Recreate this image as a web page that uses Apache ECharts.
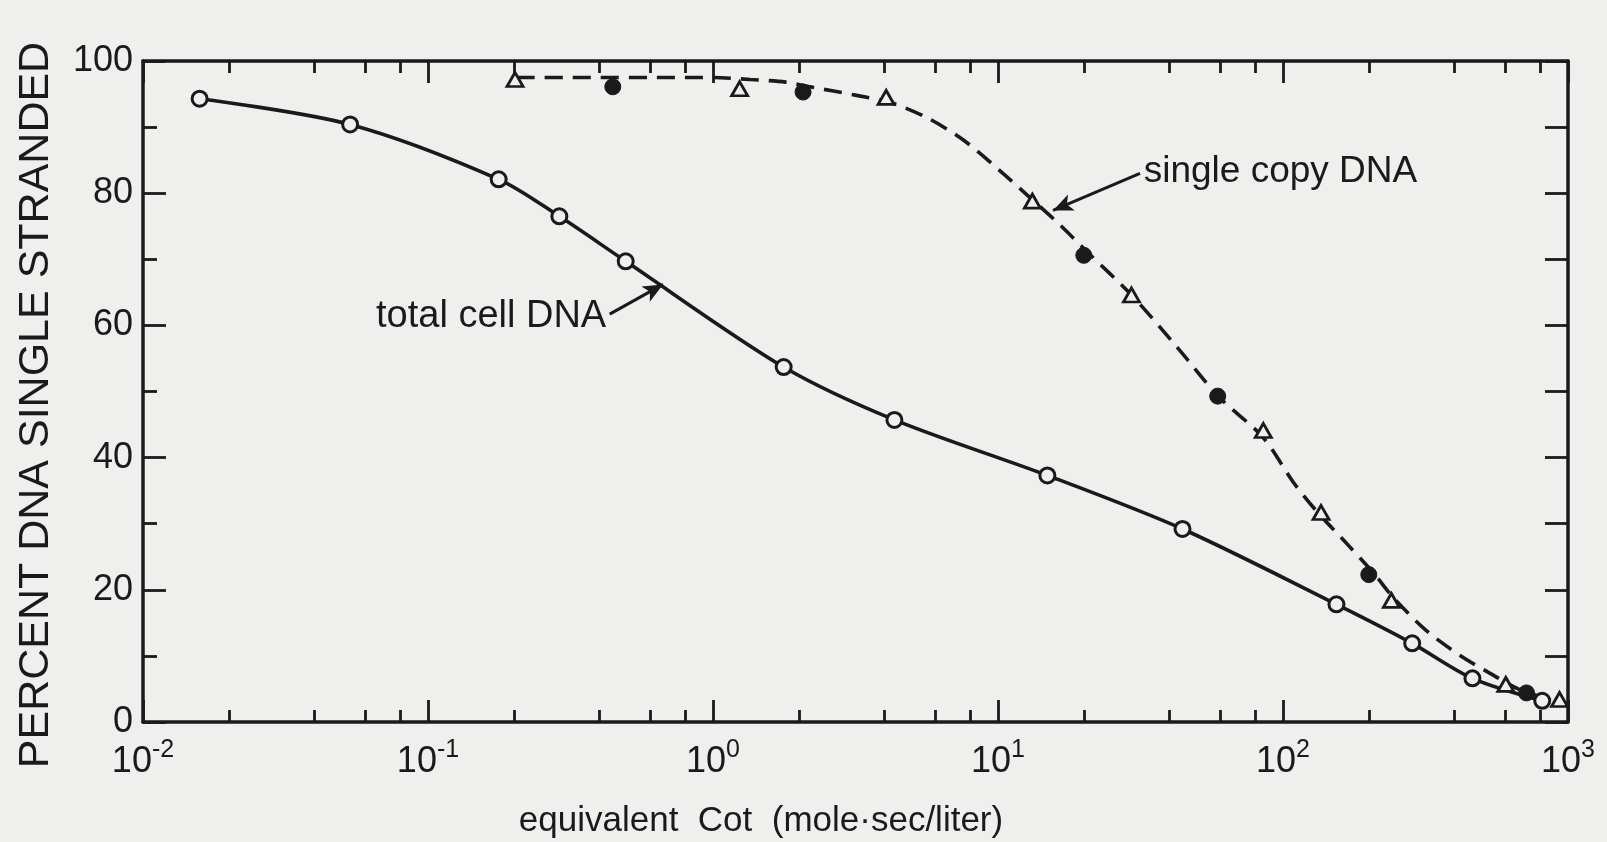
<!DOCTYPE html>
<html>
<head>
<meta charset="utf-8">
<script src="https://cdn.jsdelivr.net/npm/echarts@6/dist/echarts.min.js"></script>
<style>
html,body{margin:0;padding:0;background:#efefed;}
#c{width:1607px;height:842px;}
</style>
</head>
<body>
<div id="c"></div>
<script>
// ---- data ----
// total cell DNA (open circles, solid curve)
var totalX = [0.0158, 0.0533, 0.177, 0.289, 0.494, 1.77, 4.33, 14.9, 44.4, 154, 284, 462, 812];
var totalY = [94.3, 90.4, 82.1, 76.5, 69.7, 53.7, 45.7, 37.3, 29.2, 17.8, 11.9, 6.6, 3.2];
// single copy DNA (open triangles)
var triX = [0.202, 1.24, 4.05, 13.2, 29.4, 85.3, 136, 240, 605, 934];
var triY = [97.2, 95.8, 94.5, 78.8, 64.6, 44.1, 31.7, 18.4, 5.7, 3.4];
// single copy DNA (filled circles)
var fillX = [0.445, 2.07, 20.0, 59.0, 200, 715];
var fillY = [96.1, 95.3, 70.6, 49.3, 22.3, 4.4];
// dashed curve drawn through the single copy DNA points
var dashX = [0.205, 1.00, 1.35, 1.80, 2.25, 3.19, 4.27, 5.71, 7.58, 10.1, 13.2, 16.5, 20.8, 29.4, 42.7, 59.5, 84.9, 109, 133, 169, 210, 243, 317, 417, 531, 677, 912];
var dashY = [97.5, 97.5, 97.2, 96.8, 96.0, 94.8, 93.6, 91.3, 88.0, 83.5, 79.0, 75.2, 70.9, 64.6, 56.6, 49.2, 43.1, 36.2, 31.6, 26.8, 22.3, 18.9, 13.9, 10.1, 7.4, 4.9, 3.1];
// axis ticks and labels
var xMajorTicks = [0.01, 0.1, 1, 10, 100, 1000];
var xTickExp = ['-2', '-1', '0', '1', '2', '3'];
var xMinorTicks = [0.02, 0.04, 0.06, 0.08, 0.2, 0.4, 0.6, 0.8, 2, 4, 6, 8, 20, 40, 60, 80, 200, 400, 600, 800];
var yMajorTicks = [0, 20, 40, 60, 80, 100];
var yMinorTicks = [10, 30, 50, 70, 90];
var yAllTicks = [0, 10, 20, 30, 40, 50, 60, 70, 80, 90, 100];
// annotations: [text, arrow tail x, tail y, arrow tip x, tip y]
var annTotal = ['total cell DNA', 0.434, 61.7, 0.668, 66.2];
var annSingle = ['single copy DNA', 31.5, 83.0, 15.6, 77.4];
var xTitle = 'equivalent  Cot  (mole\u00b7sec/liter)';
var yTitle = 'PERCENT DNA SINGLE STRANDED';

// ---- chart ----
var INK = '#1a1a1a';
var BG = '#efefed';
var FONT = '"Liberation Sans", Arial, sans-serif';

function pairs(xs, ys) { return xs.map(function (x, i) { return [x, ys[i]]; }); }

var chart = echarts.init(document.getElementById('c'), null, {renderer: 'canvas'});

function logAxis(pos, major, showLine, showLabel) {
  return {
    type: 'log', logBase: 10, min: 0.01, max: 1000, position: pos, gridIndex: 0,
    axisLine: {show: showLine, onZero: false, lineStyle: {color: INK, width: 3.5}},
    axisTick: {show: true, inside: true, length: major ? 22 : 12,
      customValues: major ? xMajorTicks : xMinorTicks,
      lineStyle: {color: INK, width: 2.8}},
    axisLabel: showLabel ? {
      show: true, customValues: xMajorTicks, margin: 16, color: INK, fontFamily: FONT,
      formatter: function (val) {
        var i = 0, best = 1e9;
        for (var k = 0; k < xMajorTicks.length; k++) {
          var d = Math.abs(Math.log(xMajorTicks[k]) - Math.log(val));
          if (d < best) { best = d; i = k; }
        }
        return '{b|10}{s|' + xTickExp[i] + '}';
      },
      rich: {
        b: {fontSize: 36, fontFamily: FONT, color: INK, lineHeight: 48, verticalAlign: 'middle'},
        s: {fontSize: 25, fontFamily: FONT, color: INK, lineHeight: 20, verticalAlign: 'top'}
      }
    } : {show: false},
    splitLine: {show: false}, minorTick: {show: false}
  };
}

function valAxis(pos, ticks, len, showLine, showLabel) {
  return {
    type: 'value', min: 0, max: 100, interval: 10, position: pos, gridIndex: 0,
    axisLine: {show: showLine, onZero: false, lineStyle: {color: INK, width: 3.5}},
    axisTick: {show: true, inside: true, length: len, customValues: ticks,
      lineStyle: {color: INK, width: 2.8}},
    axisLabel: showLabel ? {show: true, customValues: yMajorTicks, margin: 10,
      fontSize: 36, fontFamily: FONT, color: INK} : {show: false},
    splitLine: {show: false}
  };
}

var option = {
  backgroundColor: BG,
  animation: false,
  grid: {left: 143, right: 39, top: 61, bottom: 120, containLabel: false, show: false},
  xAxis: [
    logAxis('bottom', true, true, true),
    logAxis('bottom', false, false, false),
    logAxis('top', true, true, false),
    logAxis('top', false, false, false)
  ],
  yAxis: [
    valAxis('left', yMajorTicks, 23, true, true),
    valAxis('left', yMinorTicks, 14, false, false),
    valAxis('right', yAllTicks, 23, true, false)
  ],
  graphic: [
    {type: 'text', x: 36, y: 405, rotation: Math.PI / 2, z: 10,
      style: {text: yTitle, fontSize: 43, fontFamily: FONT, fill: INK,
        textAlign: 'center', textVerticalAlign: 'middle', align: 'center', verticalAlign: 'middle'}},
    {type: 'text', x: 761, y: 821, z: 10,
      style: {text: xTitle, fontSize: 35, fontFamily: FONT, fill: INK,
        textAlign: 'center', textVerticalAlign: 'middle', align: 'center', verticalAlign: 'middle'}}
  ],
  series: [
    {
      name: 'total cell DNA', type: 'line', xAxisIndex: 0, yAxisIndex: 0,
      data: pairs(totalX, totalY), smooth: 0.3,
      symbol: 'circle', symbolSize: 15, showSymbol: true, z: 3,
      lineStyle: {color: INK, width: 3.6},
      itemStyle: {color: BG, borderColor: INK, borderWidth: 3, opacity: 1},
      markLine: {
        silent: true, symbol: ['none', 'arrow'], symbolSize: [13, 20],
        lineStyle: {color: INK, width: 3, type: 'solid'},
        label: {show: true, position: 'start', formatter: annTotal[0], fontSize: 38,
          fontFamily: FONT, color: INK, distance: 4},
        data: [[{coord: [annTotal[1], annTotal[2]]}, {coord: [annTotal[3], annTotal[4]]}]]
      }
    },
    {
      name: 'single copy curve', type: 'line', xAxisIndex: 0, yAxisIndex: 0,
      data: pairs(dashX, dashY), smooth: 0.3, showSymbol: false, symbol: 'none', z: 2,
      lineStyle: {color: INK, width: 3.6, type: [18, 10]},
      markLine: {
        silent: true, symbol: ['none', 'arrow'], symbolSize: [13, 20],
        lineStyle: {color: INK, width: 3, type: 'solid'},
        label: {show: true, position: 'start', formatter: annSingle[0], fontSize: 37,
          fontFamily: FONT, color: INK, distance: 4},
        data: [[{coord: [annSingle[1], annSingle[2]]}, {coord: [annSingle[3], annSingle[4]]}]]
      }
    },
    {
      name: 'single copy triangles', type: 'scatter', xAxisIndex: 0, yAxisIndex: 0,
      data: pairs(triX, triY), symbol: 'triangle', symbolSize: [16, 14], z: 4,
      itemStyle: {color: BG, borderColor: INK, borderWidth: 2.8, opacity: 1}
    },
    {
      name: 'single copy filled', type: 'scatter', xAxisIndex: 0, yAxisIndex: 0,
      data: pairs(fillX, fillY), symbol: 'circle', symbolSize: 16, z: 4,
      itemStyle: {color: INK, borderColor: INK, borderWidth: 1, opacity: 1}
    }
  ]
};
chart.setOption(option);
</script>
</body>
</html>
